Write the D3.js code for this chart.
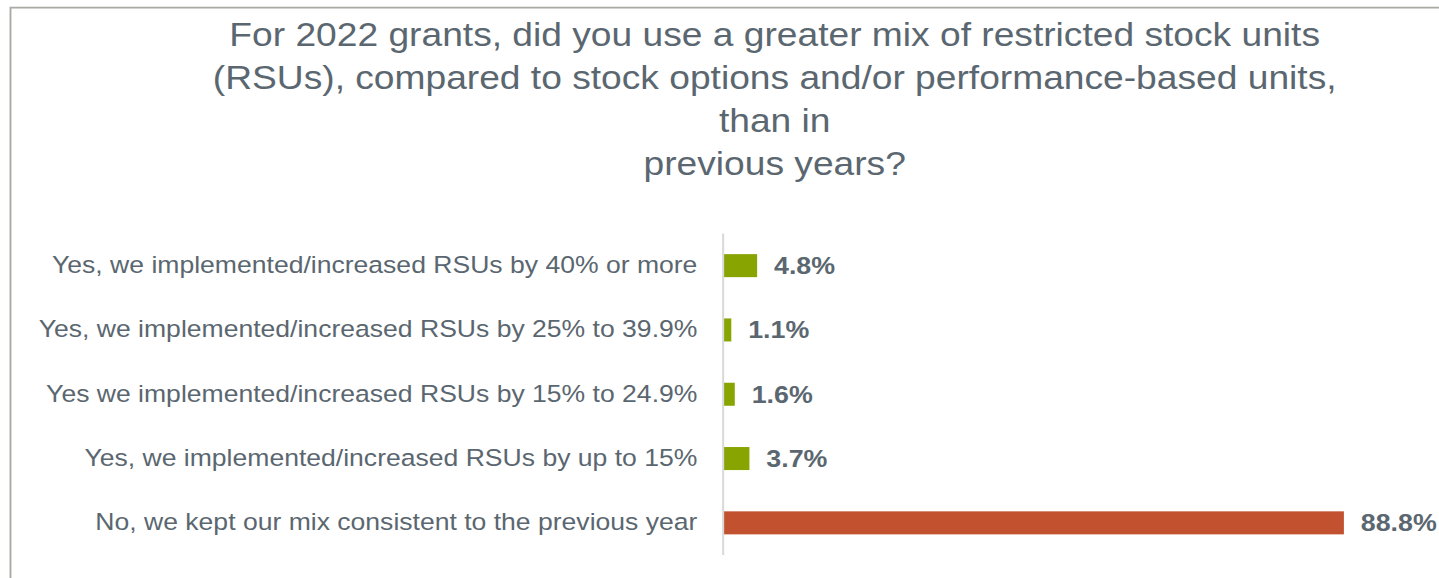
<!DOCTYPE html>
<html>
<head>
<meta charset="utf-8">
<script src="https://cdn.jsdelivr.net/npm/d3@7"></script>
<style>
  html, body { margin: 0; padding: 0; background: #ffffff; }
  svg { display: block; }
  text { font-family: "Liberation Sans", Arial, sans-serif; }
</style>
</head>
<body>
<div id="chart"></div>
<script>
// Survey answers, top to bottom
const categories = [
  "Yes, we implemented/increased RSUs by 40% or more",
  "Yes, we implemented/increased RSUs by 25% to 39.9%",
  "Yes we implemented/increased RSUs by 15% to 24.9%",
  "Yes, we implemented/increased RSUs by up to 15%",
  "No, we kept our mix consistent to the previous year"
];
// Share of respondents (%)
const values = [4.8, 1.1, 1.6, 3.7, 88.8];
// Answer group of each category
const answerGroups = ["yes", "yes", "yes", "yes", "no"];
const titleLines = [
  "For 2022 grants, did you use a greater mix of restricted stock units",
  "(RSUs), compared to stock options and/or performance-based units,",
  "than in",
  "previous years?"
];

const W = 1439, H = 578;
// Drawing space is slightly narrower than the page and stretched to fill it,
// giving the wide, slightly expanded lettering of the original slide export.
const VW = 1262, VH = 578;

const svg = d3.select("#chart").append("svg")
  .attr("width", W).attr("height", H)
  .attr("viewBox", `0 0 ${VW} ${VH}`)
  .attr("preserveAspectRatio", "none");

// Chart frame (left and top edges visible)
svg.append("path")
  .attr("d", `M9.2,${VH + 2} L9.2,7.6 L${VW + 2},7.6`)
  .attr("fill", "none")
  .attr("stroke", "#a8a9a2")
  .attr("stroke-width", 1.6);

// Title
svg.append("g").selectAll("text")
  .data(titleLines)
  .join("text")
  .attr("x", 679.4)
  .attr("y", (d, i) => 46.5 + i * 42.8)
  .attr("text-anchor", "middle")
  .attr("font-size", 32.6)
  .attr("fill", "#5b6770")
  .text(d => d);

const x0 = 634.6;
const x = d3.scaleLinear().domain([0, 100]).range([x0, x0 + 612.6]);
const y = d3.scaleBand()
  .domain(categories)
  .range([233.5, 555])
  .paddingInner(0.642)
  .paddingOuter(0.321);

const color = d3.scaleOrdinal()
  .domain(["yes", "no"])
  .range(["#87a400", "#c1512f"]);

const rows = categories.map((c, i) => ({ cat: c, value: values[i], group: answerGroups[i] }));

// Bars
svg.append("g").selectAll("rect")
  .data(rows)
  .join("rect")
  .attr("x", x(0))
  .attr("y", d => y(d.cat))
  .attr("width", d => x(d.value) - x(0))
  .attr("height", y.bandwidth())
  .attr("fill", d => color(d.group));

// Category axis
const axis = svg.append("g")
  .attr("transform", `translate(${x0 - 0.4},0)`)
  .call(d3.axisLeft(y).tickSize(0).tickPadding(22.6));
axis.select(".domain")
  .attr("stroke", "#d9d9d9")
  .attr("stroke-width", 1.8)
  .attr("d", `M0,${y.range()[0]}V${y.range()[1]}`);
axis.selectAll(".tick text")
  .attr("font-family", "\"Liberation Sans\", Arial, sans-serif")
  .attr("font-size", 23.3)
  .attr("fill", "#5b6770");

// Value labels
const fmt = d3.format(".1f");
svg.append("g").selectAll("text")
  .data(rows)
  .join("text")
  .attr("x", d => x(d.value) + 14.8)
  .attr("y", d => y(d.cat) + y.bandwidth() / 2)
  .attr("dy", "0.36em")
  .attr("font-size", 23.5)
  .attr("font-weight", "bold")
  .attr("fill", "#5b6770")
  .text(d => fmt(d.value) + "%");
</script>
</body>
</html>
